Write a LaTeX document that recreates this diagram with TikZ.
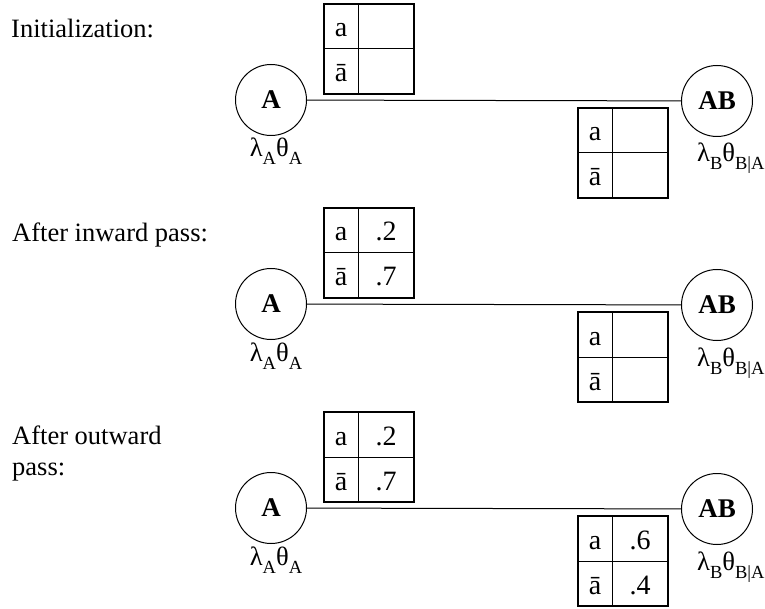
\documentclass[tikz,border=0pt]{standalone}
\usepackage{fontspec}
\setmainfont{Liberation Serif}
\usepackage{tikz}
\usetikzlibrary{positioning}
% lowered subscript as in the figure
\newcommand{\lowsub}[1]{\raisebox{-8pt}{\fontsize{18.5}{19}\selectfont #1}}
% potential table: name, left x, top y, value of a, value of abar
\newcommand{\pottable}[5]{%
  \draw[grid] (#2+34,#3) -- (#2+34,#3+90) (#2,#3+45) -- (#2+90,#3+45);
  \draw[frame] (#2,#3) rectangle (#2+90,#3+90);
  \node[cell] (#1a)  at (#2+17,#3+33) {a};
  \node[cell] (#1b)  at (#2+17,#3+78) {ā};
  \node[cell] (#1av) at (#2+62,#3+33) {#4};
  \node[cell] (#1bv) at (#2+62,#3+78) {#5};
}

\begin{document}
\begin{tikzpicture}[x=1pt, y=-1pt,
  every node/.style={font=\fontsize{26.5}{31}\selectfont},
  clique/.style={draw, circle, line width=1pt, minimum size=71pt, inner sep=0pt,
                 font=\fontsize{27}{31}\selectfont\bfseries},
  caption/.style={anchor=base west, inner sep=0pt},
  cell/.style={anchor=base, inner sep=0pt, font=\fontsize{28}{31}\selectfont},
  pot/.style={anchor=base, inner sep=0pt},
  frame/.style={line width=2.2pt},
  grid/.style={line width=1pt},
  link/.style={line width=1pt}
]
  \useasboundingbox (0,0) rectangle (765,609);

  % Initialization
  \node[caption] (cap1) at (11,38) {Initialization:};
  \node[clique] (A1) at (271,100) {A};
  \node[clique] (AB1) at (717,101) {AB};
  \draw[link] (A1) -- (AB1);
  \pottable{sep1}{324}{4}{}{}
  \pottable{cl1}{578}{108}{}{}
  \node[pot] (potA1) at (276,157) {λ\lowsub{A}θ\lowsub{A}};
  \node[pot, anchor=base west] (potAB1) at (697,162) {λ\lowsub{B}θ\lowsub{B|A}};

  % After inward pass
  \node[caption] (cap2) at (12,242) {After inward pass:};
  \node[clique] (A2) at (271,304) {A};
  \node[clique] (AB2) at (717,305) {AB};
  \draw[link] (A2) -- (AB2);
  \pottable{sep2}{324}{208}{.2}{.7}
  \pottable{cl2}{578}{312}{}{}
  \node[pot] (potA2) at (276,361) {λ\lowsub{A}θ\lowsub{A}};
  \node[pot, anchor=base west] (potAB2) at (697,366) {λ\lowsub{B}θ\lowsub{B|A}};

  % After outward pass
  \node[caption] (cap3) at (12,444) {After outward};
  \node[caption] (cap3b) at (12,475) {pass:};
  \node[clique] (A3) at (271,508) {A};
  \node[clique] (AB3) at (717,509) {AB};
  \draw[link] (A3) -- (AB3);
  \pottable{sep3}{324}{412}{.2}{.7}
  \pottable{cl3}{578}{516}{.6}{.4}
  \node[pot] (potA3) at (276,565) {λ\lowsub{A}θ\lowsub{A}};
  \node[pot, anchor=base west] (potAB3) at (697,570) {λ\lowsub{B}θ\lowsub{B|A}};
\end{tikzpicture}
\end{document}
